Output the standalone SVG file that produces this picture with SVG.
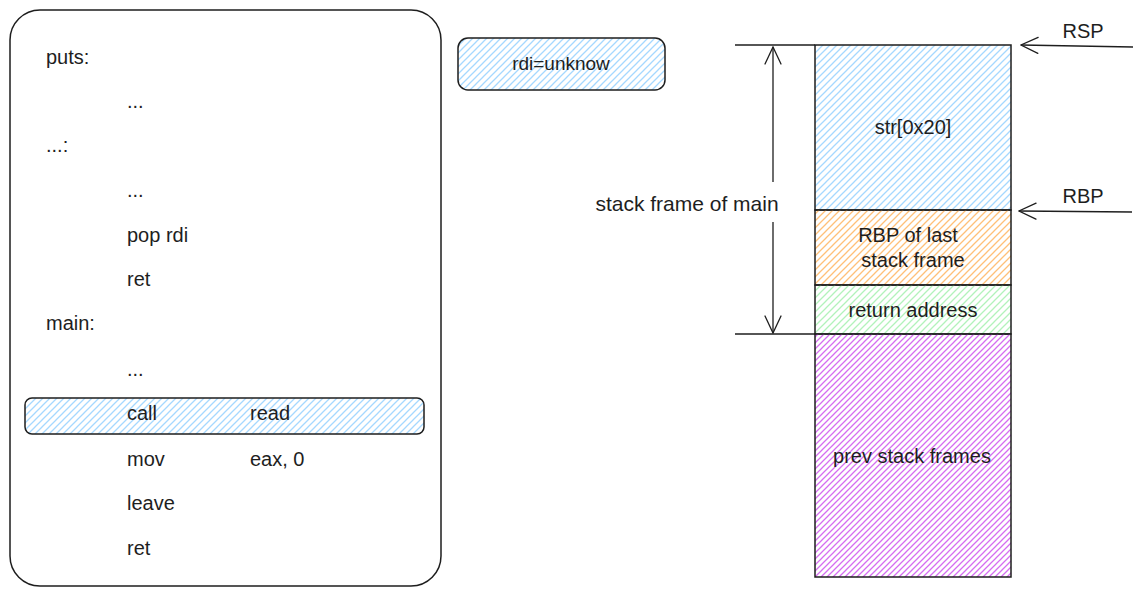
<svg xmlns="http://www.w3.org/2000/svg" width="1144" height="598" viewBox="0 0 1144 598">
<defs>
<pattern id="hBlue" width="7" height="7" patternUnits="userSpaceOnUse"><path d="M-1,1 L1,-1 M0,7 L7,0 M6,8 L8,6" stroke="#a5d8ff" stroke-width="1.3"/></pattern>
<pattern id="hOrange" width="7" height="7" patternUnits="userSpaceOnUse"><path d="M-1,1 L1,-1 M0,7 L7,0 M6,8 L8,6" stroke="#ffc078" stroke-width="1.3"/></pattern>
<pattern id="hGreen" width="7" height="7" patternUnits="userSpaceOnUse"><path d="M-1,1 L1,-1 M0,7 L7,0 M6,8 L8,6" stroke="#b2f2bb" stroke-width="1.3"/></pattern>
<pattern id="hPurple" width="6" height="6" patternUnits="userSpaceOnUse"><path d="M-1,1 L1,-1 M0,6 L6,0 M5,7 L7,5" stroke="#d56ef0" stroke-width="1.3"/></pattern>
<marker id="ah" viewBox="0 0 20 20" refX="19" refY="10" markerWidth="20" markerHeight="20" markerUnits="userSpaceOnUse" orient="auto-start-reverse">
<path d="M2,2 L19,10 L2,18" fill="none" stroke="#1e1e1e" stroke-width="1.3" stroke-linecap="round"/>
</marker>
<style>
text{font-family:"Liberation Sans","DejaVu Sans",sans-serif;font-size:20px;fill:#1e1e1e}
.box{stroke:#1e1e1e;stroke-width:1.5}
.ln{stroke:#1e1e1e;stroke-width:1.3;fill:none}
.c{text-anchor:middle}
</style>
</defs>
<rect width="1144" height="598" fill="#ffffff"/>

<g id="code-panel">
<rect class="box" x="10" y="10" width="431" height="576" rx="30" fill="none"/>
<text x="46" y="64">puts:</text>
<text x="127" y="108">...</text>
<text x="46" y="152">...:</text>
<text x="127" y="197">...</text>
<text x="127" y="242">pop rdi</text>
<text x="127" y="286">ret</text>
<text x="46" y="330">main:</text>
<text x="127" y="376">...</text>
</g>

<g id="call-read">
<rect class="box" x="25" y="398" width="399" height="36" rx="7" fill="url(#hBlue)"/>
<text x="127" y="420">call</text>
<text x="250" y="420">read</text>
</g>

<g id="code-tail">
<text x="127" y="466">mov</text>
<text x="250" y="466">eax, 0</text>
<text x="127" y="510">leave</text>
<text x="127" y="555">ret</text>
</g>

<g id="rdi">
<rect class="box" x="458" y="38" width="207" height="52" rx="10" fill="url(#hBlue)"/>
<text class="c" x="561" y="70" style="font-size:19px">rdi=unknow</text>
</g>

<g id="str">
<rect class="box" x="815" y="45" width="196" height="165" fill="url(#hBlue)"/>
<text class="c" x="913" y="134">str[0x20]</text>
</g>

<g id="rbp-last">
<rect class="box" x="815" y="210" width="196" height="75" fill="url(#hOrange)"/>
<text class="c" x="908" y="242">RBP of last</text>
<text class="c" x="913" y="267">stack frame</text>
</g>

<g id="ret-addr">
<rect class="box" x="815" y="285" width="196" height="49" fill="url(#hGreen)"/>
<text class="c" x="913" y="317">return address</text>
</g>

<g id="prev">
<rect class="box" x="815" y="334" width="196" height="243" fill="url(#hPurple)"/>
<text class="c" x="912" y="463">prev stack frames</text>
</g>

<g id="frame-label">
<text class="c" x="687" y="211" style="font-size:21px">stack frame of main</text>
</g>

<g id="rsp-label"><text class="c" x="1083" y="38">RSP</text></g>
<g id="rbp-label"><text class="c" x="1083" y="203">RBP</text></g>

<g id="connectors">
<line class="ln" x1="735" y1="45" x2="815" y2="45"/>
<line class="ln" x1="735" y1="334" x2="815" y2="334"/>
<line class="ln" x1="773" y1="182" x2="773" y2="47" marker-end="url(#ah)"/>
<line class="ln" x1="773" y1="222" x2="773" y2="333" marker-end="url(#ah)"/>
<line class="ln" x1="1133" y1="47" x2="1021" y2="45" marker-end="url(#ah)"/>
<line class="ln" x1="1132" y1="212" x2="1019" y2="211" marker-end="url(#ah)"/>
</g>
</svg>
